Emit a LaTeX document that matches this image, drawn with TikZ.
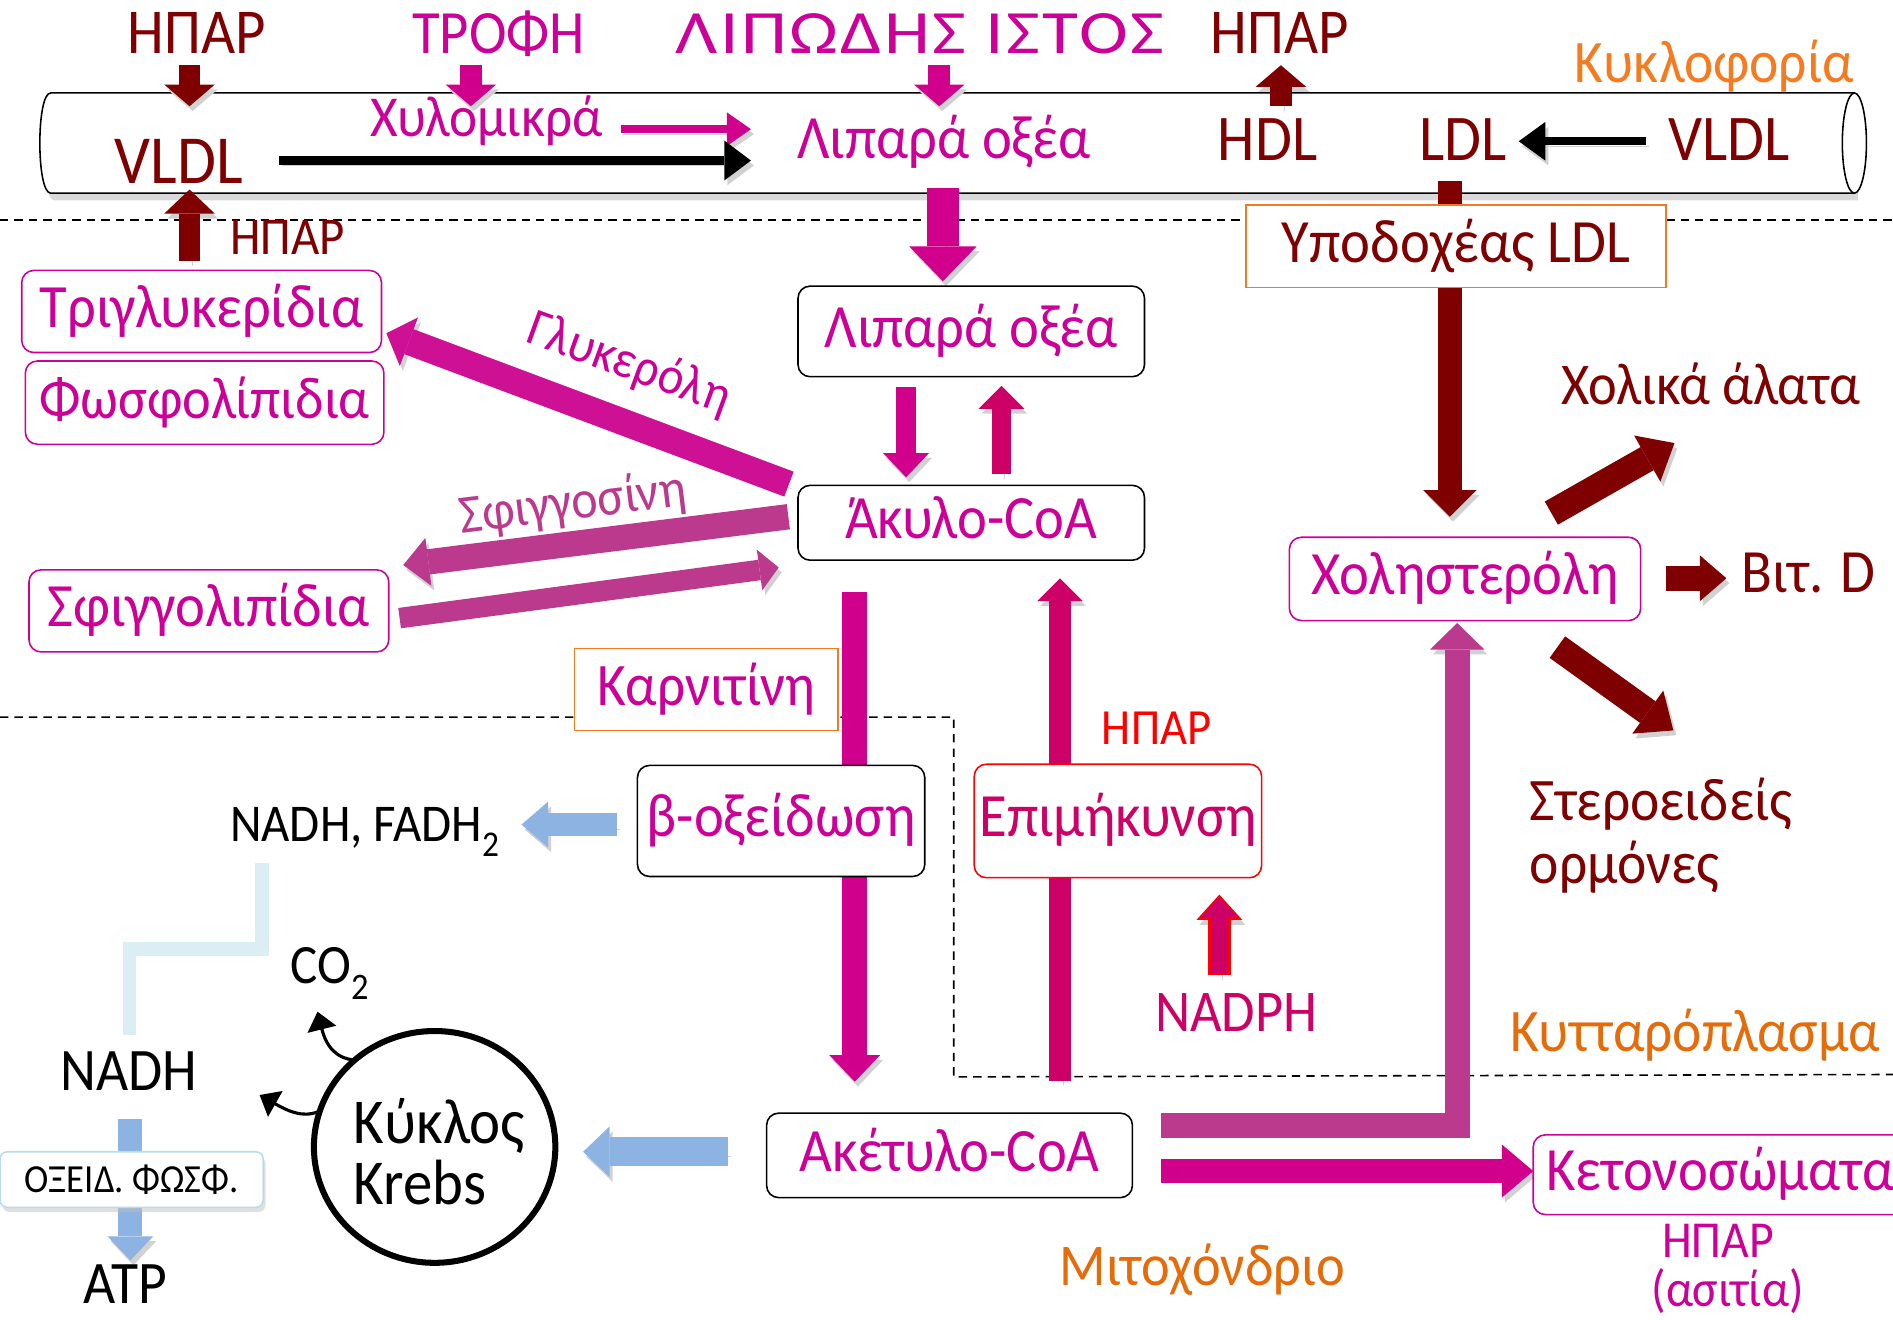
\documentclass[tikz,border=0pt]{standalone}
\usepackage{fontspec}
\setmainfont{Carlito}[FakeStretch=0.92]
\usetikzlibrary{arrows.meta,shapes.geometric,shadows}
\definecolor{drk}{HTML}{7F0000}
\definecolor{magt}{HTML}{CC0099}
\definecolor{maga}{HTML}{D0008C}
\definecolor{glyc}{HTML}{CE1094}
\definecolor{purp}{HTML}{BB3A8E}
\definecolor{crim}{HTML}{CC0066}
\definecolor{orng}{HTML}{F47B20}
\definecolor{orng2}{HTML}{E46C0A}
\definecolor{orbox}{HTML}{F47920}
\definecolor{lblue}{HTML}{8DB3E2}
\definecolor{pale}{HTML}{DAEEF3}
\definecolor{oxb}{HTML}{B7DEE8}
\newcommand\FS[1]{\fontsize{#1}{#1}\selectfont}
\pgfdeclarelayer{lay0}
\pgfdeclarelayer{lay1}
\pgfsetlayers{lay0,lay1,main}
\begin{document}
\begin{tikzpicture}[x=1pt,y=-1pt,
  tx/.style={inner sep=0pt, anchor=base},
  bx/.style={draw, fill=white, rounded corners=10pt, line width=1.3pt, inner sep=0pt,
     text height=36.7pt, text depth=10.2pt, font=\FS{51}},
  ba/.style n args={3}{line width=#1pt, arrows={-{Triangle[width=#2pt,length=#3pt,line width=0pt]}}},
  sh/.style={preaction={draw=black!18, transform canvas={shift={(2.5pt,-4pt)}}}},
  dsh/.style={line width=1.3pt, dash pattern=on 7pt off 5pt},
]
\useasboundingbox (0,0) rectangle (1568,1093);

% ---------- top labels ----------
\node[tx, text=drk, font=\FS{53}] (hp1) at (163,44) {ΗΠΑΡ};
\node[tx, text=magt, font=\FS{51}] (trofi) at (413,44) {ΤΡΟΦΗ};
\node[tx, text=magt, font=\FS{51}] (lipist) at (762,44) {\scalebox{1.3}[1]{\addfontfeatures{LetterSpace=3}ΛΙΠΩΔΗΣ ΙΣΤΟΣ}};
\node[tx, text=drk, font=\FS{53}] (hp2) at (1060,44) {ΗΠΑΡ};
\node[tx, text=orng, font=\FS{50}] (kykl) at (1420,68) {Κυκλοφορία};

% ---------- inside tube ----------
\node[tx, text=drk, font=\FS{57}] (vldl1) at (148,152) {VLDL};
\node[tx, text=magt, font=\FS{48}] (xyl) at (403,113) {Χυλομικρά};
\node[tx, text=magt, font=\FS{51}] (lipt) at (782,131) {Λιπαρά οξέα};
\node[tx, text=drk, font=\FS{54}] (hdl) at (1050,133) {HDL};
\node[tx, text=drk, font=\FS{54}] (ldl) at (1212,133) {LDL};
\node[tx, text=drk, font=\FS{54}] (vldl2) at (1432,133) {VLDL};
\node[tx, text=drk, font=\FS{44}] (hp3) at (238,211) {ΗΠΑΡ};

% ---------- boxes ----------
\node[bx, draw=magt, text=magt, minimum width=298pt, minimum height=68pt] (tri) at (167,258) {Τριγλυκερίδια};
\node[bx, draw=magt, text=magt, font=\FS{49}, minimum width=297pt, minimum height=69pt] (fosf) at (169.5,333.5) {Φωσφολίπιδια};
\node[bx, draw=magt, text=magt, minimum width=298pt, minimum height=68pt] (sfl) at (173,506) {Σφιγγολιπίδια};
\node[bx, draw=black, text=magt, minimum width=287pt, minimum height=75pt] (lip) at (804.5,274.5) {Λιπαρά οξέα};
\node[bx, draw=black, text=magt, minimum width=287pt, minimum height=62pt] (aky) at (804.5,433) {Άκυλο-CoA};
\node[bx, draw=orbox, rounded corners=0pt, text=drk, minimum width=348pt, minimum height=68pt] (ypo) at (1206,204) {Υποδοχέας LDL};
\node[bx, draw=orbox, rounded corners=0pt, text=magt, font=\FS{50}, minimum width=218pt, minimum height=68pt] (karn) at (585,571) {Καρνιτίνη};
\node[bx, draw=black, text=magt, minimum width=238pt, minimum height=92pt] (beta) at (647,680) {β-οξείδωση};
\node[bx, draw=red, text=crim, minimum width=238pt, minimum height=94pt] (epi) at (926,680) {Επιμήκυνση};
\node[bx, draw=black, text=magt, minimum width=303pt, minimum height=70pt] (ake) at (786.5,957) {Ακέτυλο-CoA};
\node[bx, draw=magt, text=magt, minimum width=310pt, minimum height=66pt] (ket) at (1425,973) {Κετονοσώματα};
\node[bx, draw=magt, text=magt, minimum width=291pt, minimum height=69pt] (chol) at (1213.5,479.5) {Χοληστερόλη};
\node[bx, draw=oxb, text=black, rounded corners=6pt, font=\FS{33}, text height=21pt, text depth=0pt,
      minimum width=218pt, minimum height=46pt,
      drop shadow={shadow xshift=2pt, shadow yshift=-4pt, fill=black!25}] (oxf) at (109,977) {ΟΞΕΙΔ. ΦΩΣΦ.};
\node[draw, ellipse, line width=5pt, minimum width=200pt, minimum height=192pt] (krebs) at (360,950) {};
\node[tx, anchor=base west, font=\FS{53}] (kyk) at (293,947) {Κύκλος};
\node[tx, anchor=base west, font=\FS{53}] (krb) at (293,998) {Krebs};

% ---------- other labels ----------
\node[tx, text=magt, font=\FS{44}, rotate=-20] (glt) at (517,313) {Γλυκερόλη};
\node[tx, text=purp, font=\FS{45}, rotate=7] (sft) at (476,430) {Σφιγγοσίνη};
\node[tx, text=red, font=\FS{42}] (hp4) at (958,617) {ΗΠΑΡ};
\node[tx, font=\FS{44}] (nadf) at (302,697) {NADH, FADH\raisebox{-0.28em}{\FS{30}2}};
\node[tx, font=\FS{46}] (co2) at (273,815) {CO\raisebox{-0.28em}{\FS{31}2}};
\node[tx, font=\FS{50}] (nadh) at (107,903) {NADH};
\node[tx, font=\FS{50}] (atp) at (104,1080) {ATP};
\node[tx, text=crim, font=\FS{49}] (nadph) at (1024,854) {NADPH};
\node[tx, text=orng2, font=\FS{50}] (kytt) at (1404,871) {Κυτταρόπλασμα};
\node[tx, text=orng2, font=\FS{49}] (mito) at (996,1065) {Μιτοχόνδριο};
\node[tx, text=magt, font=\FS{43}] (hp5) at (1423,1042) {ΗΠΑΡ};
\node[tx, text=magt, font=\FS{43}] (asit) at (1431,1082) {(ασιτία)};
\node[tx, text=drk, font=\FS{49}] (xol) at (1417,335) {Χολικά άλατα};
\node[tx, text=drk, font=\FS{51}] (vitd) at (1498,491) {Βιτ. D};
\node[tx, anchor=base west, text=drk, font=\FS{50}] (ster) at (1267,680) {Στεροειδείς};
\node[tx, anchor=base west, text=drk, font=\FS{50}] (orm) at (1267,732) {ορμόνες};

% ---------- free connector ends ----------
\coordinate (c1a) at (157,54);   \coordinate (c1b) at (157,88);
\coordinate (c2a) at (390,54);   \coordinate (c2b) at (390,88);
\coordinate (c3a) at (778,54);   \coordinate (c3b) at (778,88);
\coordinate (c4a) at (1061,88);  \coordinate (c4b) at (1061,54);
\coordinate (c5a) at (514,107);  \coordinate (c5b) at (622,107);
\coordinate (c6a) at (231,133);  \coordinate (c6b) at (622,133);
\coordinate (c7a) at (1363,117); \coordinate (c7b) at (1258,117);
\coordinate (c8a) at (157,216);  \coordinate (c8b) at (157,157);
\coordinate (c9a) at (781,156);  \coordinate (c9b) at (781,233);
\coordinate (c10a) at (1201,150);\coordinate (c10b) at (1201,428);
\coordinate (d1) at (653.5,401); \coordinate (d2) at (320,276);
\coordinate (e1) at (653,428);   \coordinate (e2) at (334,468);
\coordinate (f1) at (331,512);   \coordinate (f2) at (645,470);
\coordinate (g1) at (708,490);   \coordinate (g2) at (708,896);
\coordinate (h1) at (878,895);   \coordinate (h2) at (878,479);
\coordinate (n1) at (1010,808);  \coordinate (n2) at (1010,741);
\coordinate (b1) at (511,683);   \coordinate (b2) at (432,683);
\coordinate (k1) at (603,954);   \coordinate (k2) at (483,954);
\coordinate (a1) at (108,927);   \coordinate (a2) at (108,1044);
\coordinate (p1) at (217,715);   \coordinate (p2) at (107,857);
\coordinate (q1) at (962,932);   \coordinate (q2) at (1207,516);
\coordinate (r1) at (962,970);   \coordinate (r2) at (1270,970);
\coordinate (s1) at (1285,425);  \coordinate (s2) at (1387,367);
\coordinate (t1) at (1380,479);  \coordinate (t2) at (1430,479);
\coordinate (u1) at (1290,536);  \coordinate (u2) at (1386,605);
\coordinate (v1) at (294,878);   \coordinate (v2) at (263,838);
\coordinate (w1) at (263,921);   \coordinate (w2) at (215,907);

% ---------- background: dashed lines and tube ----------
\begin{pgfonlayer}{lay0}
\draw[dsh] (0,182) -- (1568,182);
\draw[dsh] (0,594) -- (790,594) -- (790,892) -- (1568,890);
\fill[black!15] (1539,82) -- (45,82) .. controls (33,82) and (33,166) .. (45,166) -- (1539,166) -- cycle;
\draw[line width=1.3pt, fill=white] (1536,77) -- (42,77) .. controls (30,77) and (30,160) .. (42,160) -- (1536,160);
\draw[line width=1.3pt, fill=white] (1536,118.5) ellipse [x radius=10pt, y radius=41.5pt];
\end{pgfonlayer}

% ---------- connectors ----------
\begin{pgfonlayer}{lay1}
\draw[drk, ba={18}{42}{18}, sh] (c1a) -- (c1b);
\draw[maga, ba={18}{42}{18}, sh] (c2a) -- (c2b);
\draw[maga, ba={18}{42}{18}, sh] (c3a) -- (c3b);
\draw[drk, ba={18}{42}{18}, sh] (c4a) -- (c4b);
\draw[maga, ba={7}{28}{20}, sh] (c5a) -- (c5b);
\draw[black, ba={7}{33}{22}, sh] (c6a) -- (c6b);
\draw[black, ba={7}{32}{22}, sh] (c7a) -- (c7b);
\draw[drk, ba={18}{42}{20}, sh] (c8a) -- (c8b);
\draw[maga, ba={26}{56}{29}, sh] (c9a) -- (c9b);
\draw[drk, ba={20}{44}{22}, sh] (c10a) -- (c10b);
\draw[maga, ba={16}{38}{20}, sh] ([xshift=-54pt,yshift=-8pt]lip.south) -- ([xshift=-54pt,yshift=6pt]aky.north);
\draw[crim, ba={16}{38}{19}, sh] ([xshift=25pt,yshift=9pt]aky.north) -- ([xshift=25pt,yshift=-7pt]lip.south);
\draw[glyc, ba={22}{43}{20}, sh] (d1) -- (d2);
\draw[purp, ba={21}{40}{21}, sh] (e1) -- (e2);
\draw[purp, ba={17}{34}{16}, sh] (f1) -- (f2);
\draw[maga, ba={21}{42}{22}, sh] (g1) -- (g2);
\draw[crim, ba={19}{38}{19}, sh] (h1) -- (h2);
\draw[red, ba={19}{38}{21}, sh] (n1) -- (n2);
\draw[crim, ba={14}{32}{17}] ([yshift=1.5pt]n1) -- ([yshift=-2.2pt]n2);
\draw[lblue, ba={19}{38}{22}, sh] (b1) -- (b2);
\draw[lblue, ba={24}{42}{22}, sh] (k1) -- (k2);
\draw[lblue, ba={20}{38}{20}, sh] (a1) -- (a2);
\draw[pale, line width=11pt] (p1) -- (217,786) -- (107,786) -- (p2);
\draw[purp, ba={21}{45}{22}, sh] (q1) -| (q2);
\draw[maga, ba={20}{44}{26}, sh] (r1) -- (r2);
\draw[drk, ba={22}{44}{26}, sh] (s1) -- (s2);
\draw[drk, ba={21}{38}{22}, sh] (t1) -- (t2);
\draw[drk, ba={22}{44}{26}, sh] (u1) -- (u2);
\draw[line width=2.6pt, -{Triangle[width=24pt,length=15pt]}] (v1) .. controls (278,877) and (270,866) .. (v2);
\draw[line width=2.6pt, -{Triangle[width=24pt,length=15pt]}] (w1) .. controls (250,926) and (238,920) .. (w2);
\end{pgfonlayer}
\end{tikzpicture}
\end{document}
